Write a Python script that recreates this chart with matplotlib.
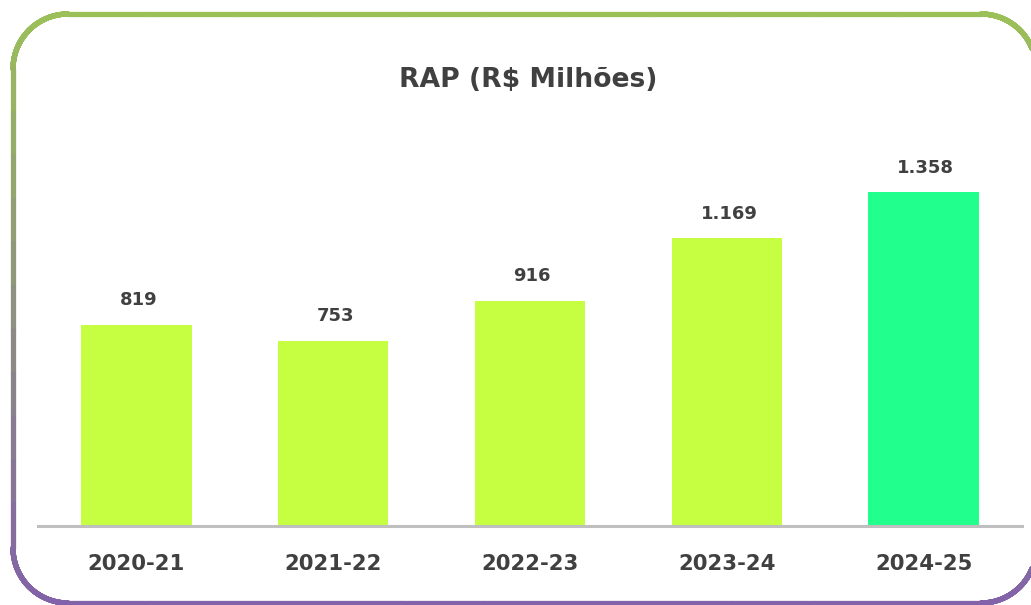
import numpy as np
import matplotlib
matplotlib.use("Agg")
import matplotlib.pyplot as plt
from matplotlib.collections import LineCollection

categories = ["2020-21", "2021-22", "2022-23", "2023-24", "2024-25"]
values = [819, 753, 916, 1169, 1358]
value_labels = ["819", "753", "916", "1.169", "1.358"]
title = r"RAP (R\$ Milhões)"

W, H = 1031, 605
fig = plt.figure(figsize=(W / 100, H / 100), dpi=100)
fig.patch.set_facecolor("white")

# rounded border with vertical gradient (green top -> purple bottom)
def rounded_rect(x0, y0, x1, y1, r, n=40):
    pts = []
    corners = [(x1 - r, y1 - r, 0), (x0 + r, y1 - r, 90), (x0 + r, y0 + r, 180), (x1 - r, y0 + r, 270)]
    for cx, cy, a0 in corners:
        t = np.radians(np.linspace(a0, a0 + 90, n))
        pts.append(np.column_stack([cx + r * np.cos(t), cy + r * np.sin(t)]))
    pts.append(pts[0][:1])
    return np.vstack(pts)

pts = rounded_rect(13, H - 603, 1036, H - 14, 55)
dense = []
for i in range(len(pts) - 1):
    seg = np.linspace(pts[i], pts[i + 1], 12)
    dense.append(seg[:-1])
dense = np.vstack(dense + [pts[-1:]])
segs = np.stack([dense[:-1], dense[1:]], axis=1)
ymid = segs[:, :, 1].mean(axis=1)
top_c = np.array([155, 192, 88]) / 255
bot_c = np.array([130, 98, 168]) / 255
f = np.clip((ymid - (H - 603)) / (603 - 14), 0, 1)[:, None]
cols = bot_c * (1 - f) + top_c * f
segs_fig = segs / np.array([W, H])
lc = LineCollection(segs_fig, colors=cols, linewidths=3.8, transform=fig.transFigure, capstyle="round")
fig.add_artist(lc)

# axes
ax_left, ax_right = 38, 1022
ax_bottom, ax_top = 526, 130
ax = fig.add_axes([ax_left / W, (H - ax_bottom) / H, (ax_right - ax_left) / W, (ax_bottom - ax_top) / H])
ax.set_facecolor("none")
px_per_unit = 334 / 1358
ax.set_ylim(0, (ax_bottom - ax_top) / px_per_unit)
ax.set_xlim(-0.5, len(categories) - 0.5)

colors = ["#C6FF41"] * 4 + ["#21FF8C"]
x = np.arange(len(categories))
bars = ax.bar(x, values, width=0.56, color=colors, zorder=2)

font = "DejaVu Sans"
for b, lab in zip(bars, value_labels):
    ax.annotate(lab, (b.get_x() + b.get_width() / 2, b.get_height()), xytext=(1.5, 14),
                textcoords="offset points", ha="center", va="baseline",
                fontsize=13, fontweight="bold", color="#404040", family=font)

for s in ["top", "right", "left"]:
    ax.spines[s].set_visible(False)
ax.spines["bottom"].set_color("#BFBFBF")
ax.spines["bottom"].set_linewidth(2.2)
ax.set_yticks([])
ax.set_xticks(x)
ax.set_xticklabels(categories, fontsize=15.3, fontweight="bold", color="#404040", family=font)
ax.tick_params(axis="x", length=0, pad=20)

fig.text(528 / W, 1 - 87 / H, title, ha="center", va="baseline", fontsize=19.2,
         fontweight="bold", color="#404040", family=font)

fig.savefig("out.png", dpi=100)
